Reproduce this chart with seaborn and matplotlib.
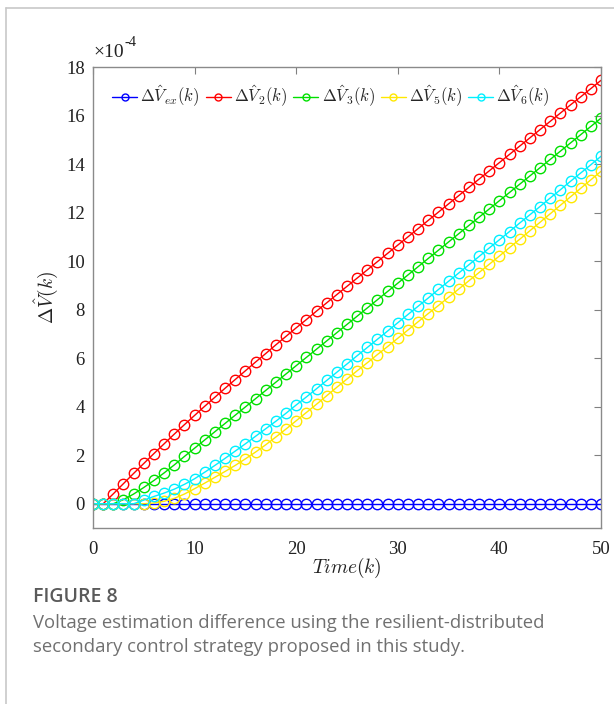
import matplotlib
matplotlib.use("Agg")
import matplotlib.pyplot as plt
import seaborn as sns
import pandas as pd
from matplotlib.lines import Line2D

# ---------------- data (values in units of 1e-4) ----------------
k = list(range(51))
v_ex = [0.0] * 51
v2 = [0, 0, 0.41, 0.83, 1.25, 1.66, 2.07, 2.47, 2.87, 3.26, 3.64, 4.02, 4.39, 4.76,
      5.12, 5.48, 5.84, 6.19, 6.55, 6.90, 7.25, 7.59, 7.94, 8.28, 8.62, 8.96, 9.30,
      9.64, 9.98, 10.32, 10.66, 11.00, 11.34, 11.68, 12.02, 12.36, 12.70, 13.04,
      13.38, 13.72, 14.06, 14.40, 14.74, 15.08, 15.42, 15.76, 16.10, 16.44, 16.77,
      17.11, 17.45]
v3 = [0, 0, 0, 0.17, 0.40, 0.67, 0.96, 1.27, 1.60, 1.95, 2.29, 2.63, 2.97, 3.31,
      3.65, 3.99, 4.33, 4.67, 5.01, 5.35, 5.69, 6.03, 6.37, 6.71, 7.05, 7.39, 7.73,
      8.07, 8.41, 8.75, 9.09, 9.43, 9.77, 10.11, 10.45, 10.79, 11.13, 11.47, 11.81,
      12.15, 12.49, 12.83, 13.17, 13.51, 13.85, 14.19, 14.53, 14.87, 15.21, 15.55,
      15.89]
v5 = [0, 0, 0, 0, 0, 0, 0.03, 0.10, 0.22, 0.40, 0.62, 0.85, 1.09, 1.33, 1.58, 1.85,
      2.13, 2.43, 2.75, 3.08, 3.42, 3.76, 4.10, 4.45, 4.80, 5.14, 5.48, 5.81, 6.15,
      6.48, 6.82, 7.16, 7.50, 7.84, 8.17, 8.51, 8.85, 9.19, 9.53, 9.87, 10.21, 10.56,
      10.90, 11.25, 11.60, 11.95, 12.30, 12.65, 13.00, 13.35, 13.70]
v6 = [0, 0, 0, 0, 0, 0.15, 0.30, 0.44, 0.60, 0.80, 1.03, 1.30, 1.58, 1.87, 2.17,
      2.47, 2.78, 3.09, 3.40, 3.73, 4.07, 4.40, 4.74, 5.08, 5.42, 5.76, 6.10, 6.44,
      6.78, 7.12, 7.46, 7.80, 8.14, 8.48, 8.83, 9.17, 9.51, 9.85, 10.19, 10.54,
      10.88, 11.22, 11.57, 11.91, 12.25, 12.60, 12.94, 13.29, 13.63, 13.97, 14.32]

labels = [r"$\Delta\hat{V}_{ex}(k)$", r"$\Delta\hat{V}_{2}(k)$", r"$\Delta\hat{V}_{3}(k)$",
          r"$\Delta\hat{V}_{5}(k)$", r"$\Delta\hat{V}_{6}(k)$"]
series = [v_ex, v2, v3, v5, v6]
colors = ["#0000ff", "#ff0000", "#00e000", "#ffe800", "#00f0ff"]
xticks = [0, 10, 20, 30, 40, 50]
yticks = [0, 2, 4, 6, 8, 10, 12, 14, 16, 18]

# ---------------- style ----------------
sns.set_style("white")
plt.rcParams["font.family"] = "serif"
plt.rcParams["font.serif"] = ["Liberation Serif", "DejaVu Serif"]
plt.rcParams["mathtext.fontset"] = "cm"
SERIF = "Liberation Serif"
SANS = ["Open Sans", "DejaVu Sans"]

fig = plt.figure(figsize=(6.14, 7.04), dpi=100)
ax = fig.add_axes([93 / 614, 1 - 528 / 704, (601 - 93) / 614, (528 - 67) / 704])

handles = []
for vals, col, lab in zip(series, colors, labels):
    df = pd.DataFrame({"k": k, "v": vals})
    sns.lineplot(data=df, x="k", y="v", ax=ax, color=col, linewidth=1.0,
                 marker="o", markersize=7.5, markerfacecolor="none",
                 markeredgecolor=col, markeredgewidth=1.0, legend=False)
    handles.append(Line2D([], [], color=col, linewidth=1.0, marker="o", markersize=5,
                          markerfacecolor="none", markeredgecolor=col,
                          markeredgewidth=1.0, label=lab))

ax.set_xlim(0, 50)
ax.set_ylim(-1, 18)
ax.set_xticks(xticks)
ax.set_yticks(yticks)
ax.set_xticklabels([str(t) for t in xticks], fontfamily=SERIF, fontsize=13.5)
ax.set_yticklabels([str(t) for t in yticks], fontfamily=SERIF, fontsize=13.5)
ax.tick_params(direction="in", length=5, width=0.8, top=True, right=True,
               colors="#808080", labelcolor="#222222", pad=6)
ax.tick_params(axis="x", pad=9)
for s in ax.spines.values():
    s.set_color("#8a8a8a")
    s.set_linewidth(1.0)
ax.set_xlabel(r"$Time(k)$", fontsize=14, color="#222222", labelpad=-1)
ax.set_ylabel(r"$\Delta\hat{V}(k)$", fontsize=14, color="#222222", labelpad=4)

ax.text(0.0, 1.012, "×10", transform=ax.transAxes, fontsize=14, fontfamily=SERIF,
        color="#222222", ha="left", va="bottom")
ax.text(0.062, 1.040, "-4", transform=ax.transAxes, fontsize=10.5, fontfamily=SERIF,
        color="#222222", ha="left", va="bottom")

ax.legend(handles=handles, loc="upper left", bbox_to_anchor=(0.018, 0.985), ncol=5,
          frameon=False, fontsize=12, handlelength=1.5, handletextpad=0.2,
          columnspacing=0.35, borderaxespad=0.2)

# page border
fig.add_artist(Line2D([6 / 614, 6 / 614], [0, 1 - 8 / 704], color="#c8c8c8",
                      linewidth=1.2, transform=fig.transFigure))
fig.add_artist(Line2D([6 / 614, 1], [1 - 8 / 704, 1 - 8 / 704], color="#c8c8c8",
                      linewidth=1.2, transform=fig.transFigure))

# caption
fig.text(33 / 614, 1 - 597 / 704, "FIGURE 8", fontsize=14, color="#5a5a5a",
         family=SANS, weight="semibold", va="center")
fig.text(33 / 614, 1 - 623 / 704,
         "Voltage estimation difference using the resilient-distributed",
         fontsize=13.3, color="#707070", family=SANS, va="center")
fig.text(33 / 614, 1 - 647 / 704,
         "secondary control strategy proposed in this study.",
         fontsize=13.3, color="#707070", family=SANS, va="center")

fig.savefig("out.png", dpi=100, facecolor="white")
